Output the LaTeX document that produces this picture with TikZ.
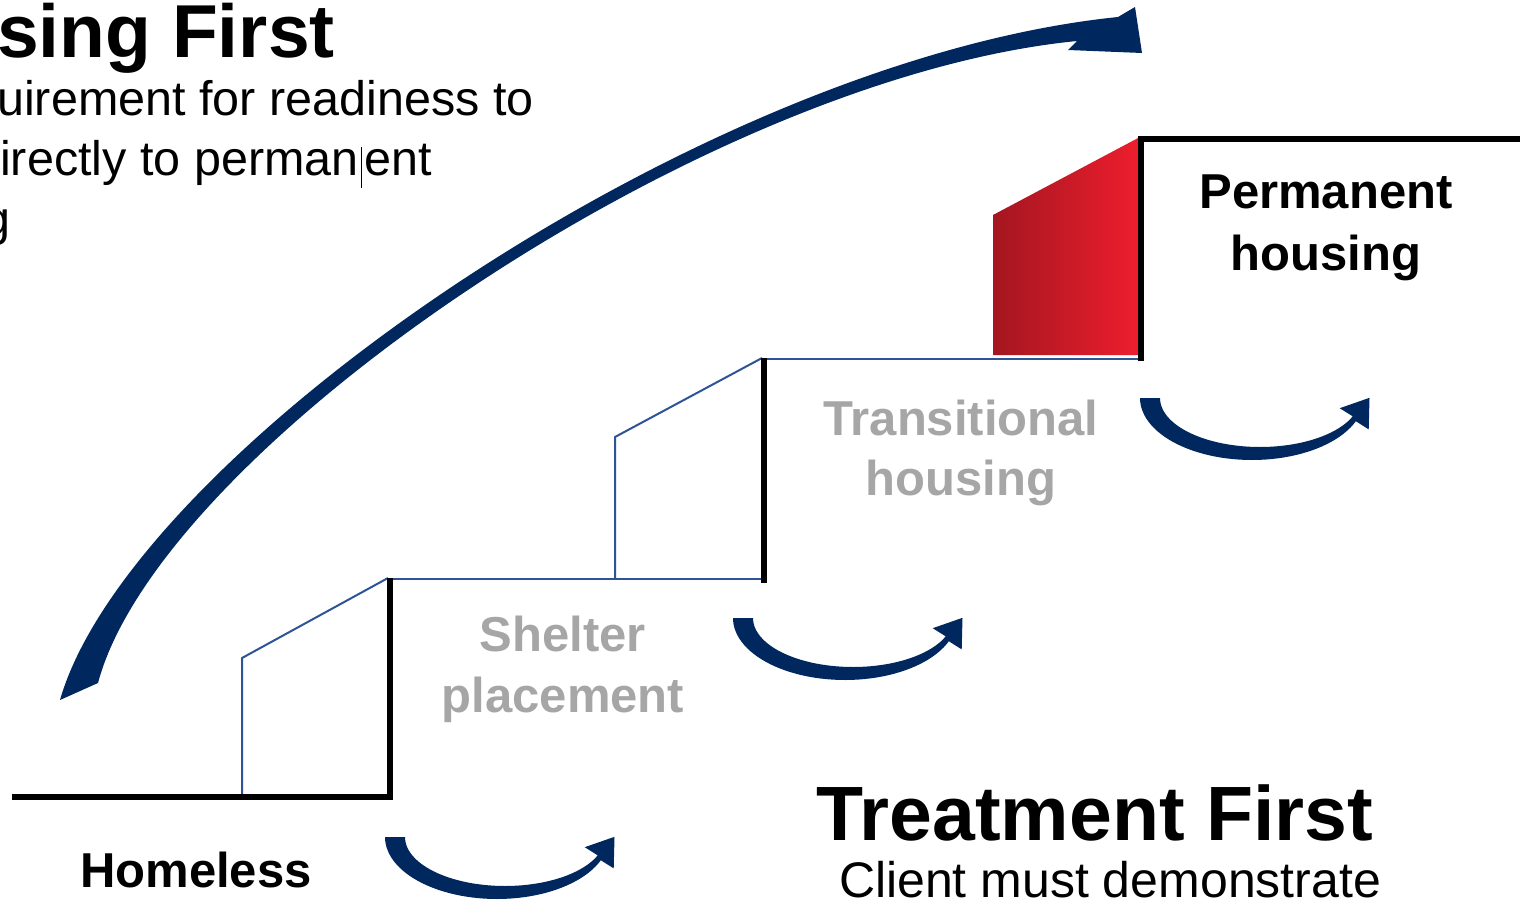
\documentclass[tikz,border=0pt]{standalone}
\usepackage{fontspec}
\setmainfont{Liberation Sans}
\usetikzlibrary{arrows.meta}
\definecolor{navy}{RGB}{0,40,94}
\definecolor{stepblue}{RGB}{47,84,150}
\definecolor{txtgray}{RGB}{166,166,166}
\definecolor{reddark}{RGB}{163,22,32}
\definecolor{redlight}{RGB}{238,30,46}
\tikzset{
  stairline/.style={line width=6.5pt, black, line join=miter},
  thinline/.style={line width=2pt, stepblue},
  lbl/.style={inner sep=0pt, anchor=base, font=\fontsize{49}{49}\selectfont\bfseries},
  graylbl/.style={lbl, text=txtgray},
  bodytxt/.style={inner sep=0pt, anchor=base west, font=\fontsize{48.5}{48.5}\selectfont},
  uturn/.pic={
    \fill[navy] plot[domain=180:22, samples=50] ({112*cos(\x)},{62*sin(\x)})
      -- (116.7,31.4) -- (117.5,-0.2) -- (87.7,10.2)
      -- plot[domain=22:180, samples=50] ({8+100*cos(\x)},{49*sin(\x)}) -- cycle;
  }
}
\begin{document}
\begin{tikzpicture}[x=1pt,y=-1pt]
\path[use as bounding box] (0,0) rectangle (1520,902);
\clip (0,0) rectangle (1520,902);
\fill[white] (0,0) rectangle (1520,902);

% red step
\shade[left color=reddark, right color=redlight] (993,355) -- (993,215) -- (1140,137) -- (1140,355) -- cycle;

% thin blue step outlines
\draw[thinline] (242,797) -- (242,658) -- (388,578);
\draw[thinline] (388,579) -- (762,579);
\draw[thinline] (615,579) -- (615,437) -- (762,358);
\draw[thinline] (762,359) -- (1138,359);

% black stairs
\draw[stairline] (12,797) -- (390,797) -- (390,578);
\draw[stairline] (764,358) -- (764,583);
\draw[stairline] (1141,361) -- (1141,139) -- (1520,139);

% big curved arrow (tapered)
\fill[navy] (60,700) .. controls (130,456) and (697,60) .. (1118,17)
  -- (1135,7) -- (1142,53) -- (1068,50) -- (1077,41)
  .. controls (702,78) and (160,450) .. (98,683) -- cycle;

% small U-turn arrows
\pic (ua1) at (497,837) {uturn};
\pic (ua2) at (845,618) {uturn};
\pic (ua3) at (1252,398) {uturn};

% top-left text (cropped)
\node[inner sep=0pt, anchor=base west, font=\fontsize{75}{75}\selectfont\bfseries] (hftitle) at (-3,57) {sing First};
\node[bodytxt] (hf1) at (-3,115) {uirement for readiness to};
\node[bodytxt] (hf2) at (0,175) {irectly to perman\kern2pt\rule[-13pt]{1.3pt}{41pt}\kern3pt ent};
\node[bodytxt] (hf3) at (-17,235) {g};

% step labels
\node[lbl] (perm1) at (1326,208) {Permanent};
\node[lbl] (perm2) at (1326,270) {housing};
\node[graylbl] (trans1) at (961,435) {Transitional};
\node[graylbl] (trans2) at (961,495) {housing};
\node[graylbl] (shel1) at (563,651) {Shelter};
\node[graylbl] (shel2) at (563,712) {placement};
\node[lbl] (homeless) at (196,887) {Homeless};

% Treatment First
\node[inner sep=0pt, anchor=base, font=\fontsize{77}{77}\selectfont\bfseries] (tftitle) at (1095,840) {Treatment First};
\node[inner sep=0pt, anchor=base, font=\fontsize{50}{50}\selectfont] (tf1) at (1110,897) {Client must demonstrate};
\end{tikzpicture}
\end{document}
